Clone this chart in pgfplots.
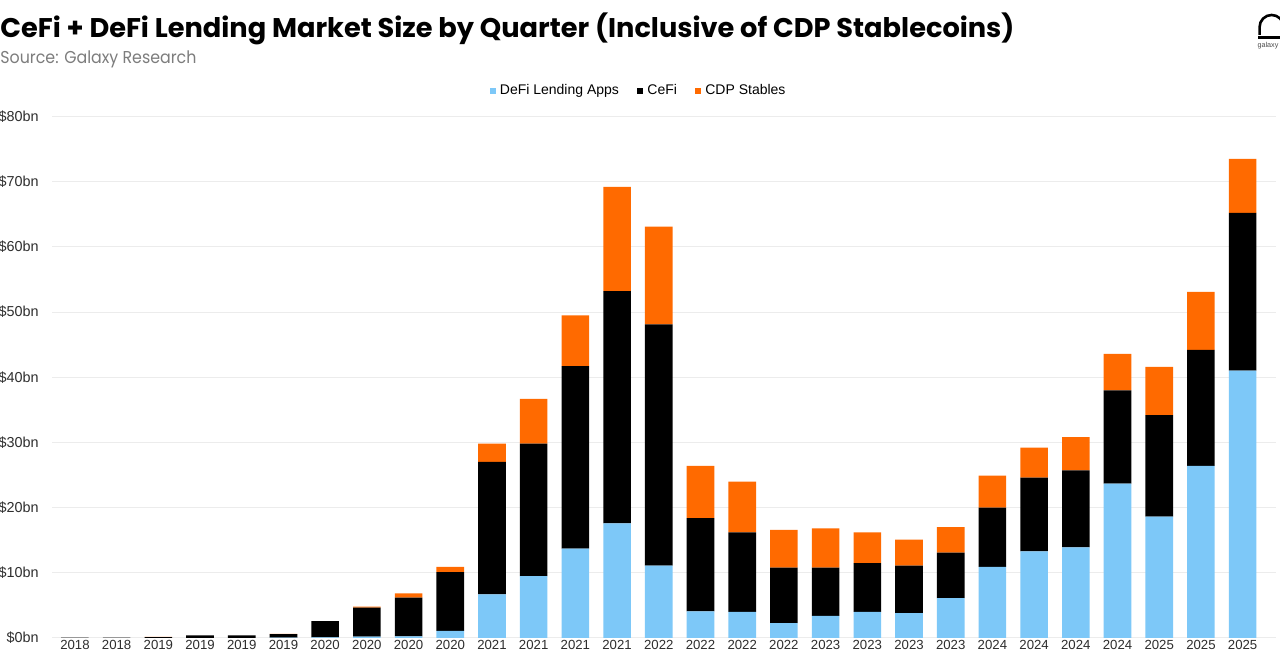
\documentclass[border=0pt]{standalone}
\usepackage{pgfplots}
\pgfplotsset{compat=1.18}
\usepackage{pgfplotstable}
\usepackage{graphicx}
\usepackage{fontspec}
\setmainfont{Liberation Sans}
\newfontfamily\titlefont{Poppins}

\definecolor{defiblue}{RGB}{125,200,248}
\definecolor{cefiblack}{RGB}{0,0,0}
\definecolor{cdporange}{RGB}{255,106,0}
\definecolor{gridgray}{RGB}{236,236,236}
\definecolor{subgray}{RGB}{125,125,125}

% Lending market size by quarter, $bn (Q3 2018 .. Q3 2025)
\pgfplotstableread{
q  defi  cefi  cdp
0  0.00  0.05  0.00
1  0.00  0.06  0.00
2  0.00  0.15  0.03
3  0.00  0.40  0.00
4  0.00  0.40  0.00
5  0.05  0.55  0.05
6  0.10  2.50  0.00
7  0.20  4.45  0.15
8  0.25  5.95  0.65
9  1.10  9.00  0.80
10 6.70  20.30 2.80
11 9.50  20.30 6.90
12 13.70 28.00 7.80
13 17.60 35.60 16.00
14 11.10 37.00 15.00
15 4.10  14.30 8.00
16 4.00  12.20 7.80
17 2.30  8.50  5.80
18 3.40  7.40  6.00
19 4.00  7.50  4.70
20 3.80  7.30  4.00
21 6.10  7.00  3.90
22 10.90 9.10  4.90
23 13.30 11.30 4.60
24 13.90 11.80 5.10
25 23.70 14.30 5.60
26 18.60 15.60 7.40
27 26.40 17.80 8.90
28 41.00 24.20 8.30
}\lending

\begin{document}
\begin{tikzpicture}[x=1pt,y=1pt]
\clip (0,0) rectangle (640,326);
\fill[white] (0,0) rectangle (640,326);

% title and source line
\node[anchor=base west, inner sep=0pt] at (0,307)
  {\resizebox{507pt}{\height}{\fontsize{13.5}{15}\titlefont\bfseries CeFi + DeFi Lending Market Size by Quarter (Inclusive of CDP Stablecoins)}};
\node[anchor=base west, inner sep=0pt, text=subgray] at (0,294)
  {\resizebox{98pt}{\height}{\fontsize{8.6}{10}\titlefont Source: Galaxy Research}};

% galaxy mark, top right
\draw[line width=1.3pt] (629.8,308.5) -- (629.8,312.5) arc[start angle=180, end angle=0, radius=6] -- (641.8,308.5);
\fill (629,306.4) rectangle (643,308.2);
\node[anchor=north west, inner sep=0pt, font=\fontsize{3.6}{4}\selectfont, text=black!70] at (628.6,305) {galaxy};

\begin{axis}[
  at={(26pt,7pt)}, anchor=south west,
  width=612pt, height=260.75pt, scale only axis,
  ybar stacked, bar width=13.8pt,
  xmin=-0.55, xmax=28.8, ymin=0, ymax=80,
  axis line style={draw=none},
  tick style={draw=none},
  ymajorgrids, grid style={gridgray, line width=0.5pt},
  ytick={0,10,...,80},
  yticklabels={\$0bn,\$10bn,\$20bn,\$30bn,\$40bn,\$50bn,\$60bn,\$70bn,\$80bn},
  yticklabel style={anchor=east, inner sep=0pt, xshift=-6.5pt, font=\fontsize{7.2}{8}\selectfont, text=black!82},
  xtick={0,...,28},
  xticklabels={2018,2018,2019,2019,2019,2019,2020,2020,2020,2020,2021,2021,2021,2021,2022,2022,2022,2022,2023,2023,2023,2023,2024,2024,2024,2024,2025,2025,2025},
  xticklabel style={anchor=north, inner sep=0pt, yshift=-1pt, font=\fontsize{6.6}{7}\selectfont, text=black!82},
  legend style={at={(0.48,1.049)}, anchor=center, draw=none, fill=none,
    font=\fontsize{7}{8}\selectfont, legend columns=3,
    /tikz/every even column/.append style={column sep=7pt},
    /tikz/every odd column/.append style={column sep=0pt}},
  legend cell align=left,
  legend image code/.code={\fill[#1] (0pt,-1.6pt) rectangle (3.2pt,1.6pt);},
]
\addplot[fill=defiblue, draw=none] table[x=q, y=defi] {\lending};
\addplot[fill=cefiblack, draw=none] table[x=q, y=cefi] {\lending};
\addplot[fill=cdporange, draw=none] table[x=q, y=cdp] {\lending};
\legend{DeFi Lending Apps, CeFi, CDP Stables}
\end{axis}
\end{tikzpicture}
\end{document}
